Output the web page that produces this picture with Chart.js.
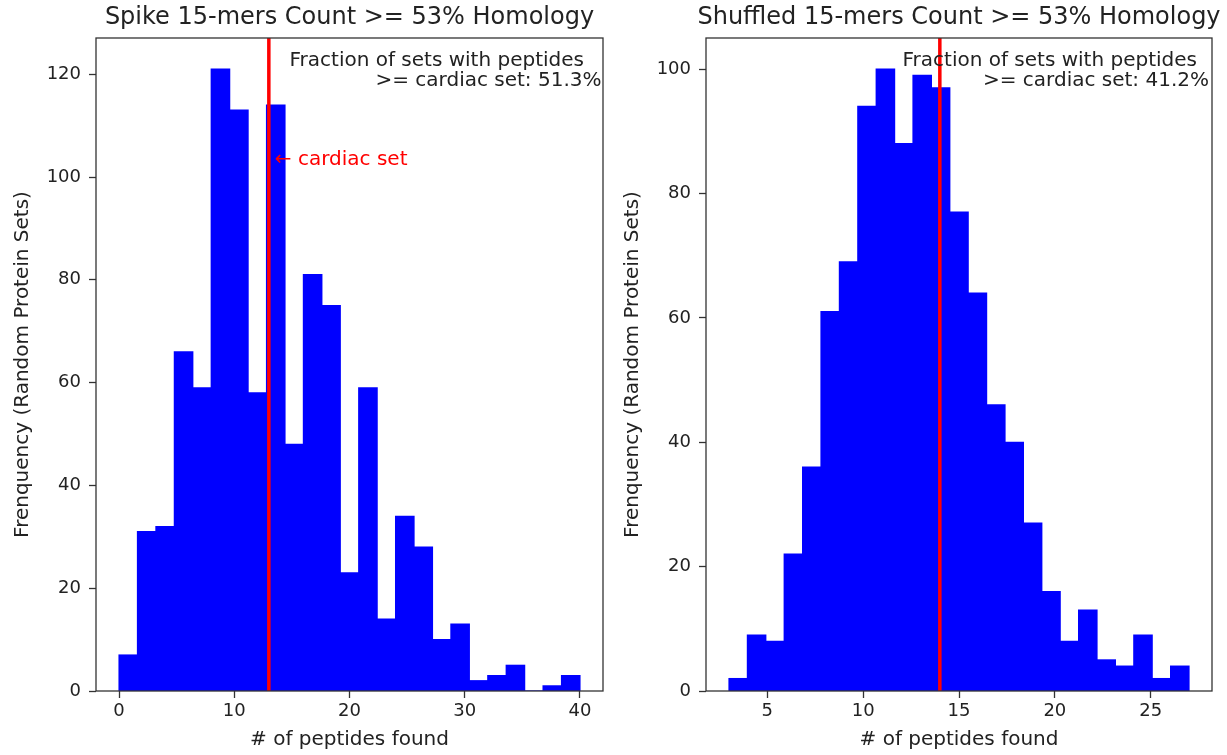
<!DOCTYPE html>
<html>
<head>
<meta charset="utf-8">
<script src="https://cdn.jsdelivr.net/npm/chart.js@4.4.0/dist/chart.umd.min.js"></script>
<style>
  html, body { margin: 0; padding: 0; background: #fff; }
  #wrap { position: relative; width: 1227px; height: 755px; }
  .panel { position: absolute; top: 0; height: 755px; }
</style>
</head>
<body>
<div id="wrap">
  <div class="panel" style="left:0;width:613px"><canvas id="spike" width="613" height="755"></canvas></div>
  <div class="panel" style="left:610px;width:617px"><canvas id="shuffled" width="617" height="755"></canvas></div>
</div>
<script>
// histogram counts (25 bins each)
var spikeCounts = [7, 31, 32, 66, 59, 121, 113, 58, 114, 48, 81, 75, 23, 59, 14, 34, 28, 10, 13, 2, 3, 5, 0, 1, 3];
var spikeRange = [0, 40];
var spikeTicksX = [0, 10, 20, 30, 40];
var spikeTicksY = [0, 20, 40, 60, 80, 100, 120];
var spikeCardiac = 13;
var spikeFraction = '51.3%';

var shuffledCounts = [2, 9, 8, 22, 36, 61, 69, 94, 100, 88, 99, 97, 77, 64, 46, 40, 27, 16, 8, 13, 5, 4, 9, 2, 4];
var shuffledRange = [3, 27];
var shuffledTicksX = [5, 10, 15, 20, 25];
var shuffledTicksY = [0, 20, 40, 60, 80, 100];
var shuffledCardiac = 14;
var shuffledFraction = '41.2%';

Chart.defaults.font.family = '"DejaVu Sans", sans-serif';
Chart.defaults.color = '#222';

var overlay = {
  id: 'overlay',
  afterDatasetsDraw: function(chart, args, o) {
    var ctx = chart.ctx, a = chart.chartArea;
    var xs = chart.scales.x, ys = chart.scales.y;
    ctx.save();
    // red line for the cardiac set
    var lx = xs.getPixelForValue(o.cardiac);
    ctx.strokeStyle = '#ff0000';
    ctx.lineWidth = 3.5;
    ctx.beginPath();
    ctx.moveTo(lx, a.top);
    ctx.lineTo(lx, a.bottom);
    ctx.stroke();
    // axes frame
    ctx.strokeStyle = '#333';
    ctx.lineWidth = 1.3;
    ctx.strokeRect(a.left, a.top, a.right - a.left, a.bottom - a.top);
    // texts
    ctx.fillStyle = '#222';
    ctx.textBaseline = 'middle';
    ctx.textAlign = 'center';
    ctx.font = '24px "DejaVu Sans"';
    ctx.fillText(o.title, (a.left + a.right) / 2, 18);
    ctx.textAlign = 'right';
    ctx.font = '20px "DejaVu Sans"';
    ctx.fillText('Fraction of sets with peptides', a.right - o.inset1, a.top + 23);
    ctx.fillText('>= cardiac set: ' + o.fraction, a.right - o.inset2, a.top + 43);
    if (o.arrowY) {
      ctx.textAlign = 'left';
      ctx.fillStyle = '#ff0000';
      ctx.fillText('\u2190 cardiac set', lx + 6, ys.getPixelForValue(o.arrowY));
    }
    ctx.restore();
  }
};

function makeHist(id, title, counts, range, ticksX, ticksY, cardiac, fraction, extra) {
  var w = (range[1] - range[0]) / counts.length;
  var pts = [];
  for (var i = 0; i < counts.length; i++) {
    pts.push({ x: range[0] + (i + 0.5) * w, y: counts[i] });
  }
  var span = range[1] - range[0];
  var ymax = Math.max.apply(null, counts) * 1.05;

  var gridOpts = {
    display: true,
    drawOnChartArea: false,
    drawTicks: true,
    tickLength: 7,
    tickWidth: 1.3,
    tickColor: '#333',
    offset: false
  };

  new Chart(document.getElementById(id).getContext('2d'), {
    type: 'bar',
    data: {
      datasets: [{
        data: pts,
        backgroundColor: '#0000ff',
        borderWidth: 0,
        inflateAmount: 0.6,
        barPercentage: 1,
        categoryPercentage: 1
      }]
    },
    options: {
      responsive: false,
      animation: false,
      devicePixelRatio: 1,
      events: [],
      layout: { padding: { top: 38, right: extra.rightPad, left: 0, bottom: 0 } },
      plugins: {
        legend: { display: false },
        tooltip: { enabled: false },
        overlay: {
          title: title,
          cardiac: cardiac,
          fraction: fraction,
          inset1: extra.inset1,
          inset2: extra.inset2,
          arrowY: extra.arrowY
        }
      },
      scales: {
        x: {
          type: 'linear',
          min: range[0] - 0.05 * span,
          max: range[1] + 0.05 * span,
          offset: false,
          afterBuildTicks: function(s) { s.ticks = ticksX.map(function(v) { return { value: v }; }); },
          grid: gridOpts,
          border: { display: false },
          ticks: { font: { size: 18 }, color: '#222', padding: 3, maxRotation: 0 },
          title: { display: true, text: '# of peptides found', font: { size: 20 }, color: '#222', padding: { top: 0, bottom: 3 } },
          afterFit: function(s) { s.height = 64; }
        },
        y: {
          min: 0,
          max: ymax,
          afterBuildTicks: function(s) { s.ticks = ticksY.map(function(v) { return { value: v }; }); },
          grid: gridOpts,
          border: { display: false },
          ticks: { font: { size: 18 }, color: '#222', padding: 8 },
          title: { display: true, text: 'Frenquency (Random Protein Sets)', font: { size: 20 }, color: '#222', padding: { top: 11, bottom: 0 } },
          afterFit: function(s) { s.width = 96; }
        }
      }
    },
    plugins: [overlay]
  });
}

makeHist('spike', 'Spike 15-mers Count >= 53% Homology', spikeCounts, spikeRange,
  spikeTicksX, spikeTicksY, spikeCardiac, spikeFraction,
  { rightPad: 10, inset1: 19, inset2: 1.5, arrowY: 103.3 });

makeHist('shuffled', 'Shuffled 15-mers Count >= 53% Homology', shuffledCounts, shuffledRange,
  shuffledTicksX, shuffledTicksY, shuffledCardiac, shuffledFraction,
  { rightPad: 15, inset1: 15, inset2: 3, arrowY: null });
</script>
</body>
</html>
